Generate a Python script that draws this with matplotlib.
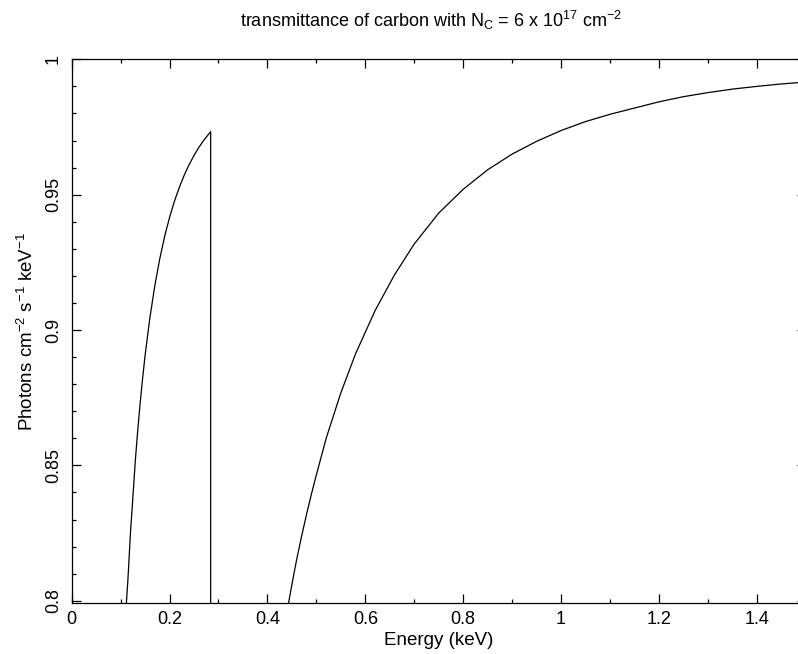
import matplotlib
matplotlib.use("Agg")
from matplotlib import pyplot as plt
from matplotlib.ticker import MultipleLocator

plt.rcParams['font.family'] = ['Liberation Sans', 'DejaVu Sans']
plt.rcParams['mathtext.fontset'] = 'custom'
plt.rcParams['mathtext.rm'] = 'Liberation Sans'
plt.rcParams['mathtext.it'] = 'Liberation Sans:italic'

# below the carbon K edge
energy_low = [0.111, 0.115, 0.12, 0.125, 0.13, 0.135, 0.14, 0.145, 0.15, 0.16, 0.17, 0.18,
              0.19, 0.20, 0.21, 0.22, 0.23, 0.24, 0.25, 0.26, 0.27, 0.284, 0.284]
trans_low = [0.797, 0.808, 0.8246, 0.838, 0.8516, 0.8629, 0.8731, 0.8822, 0.8906, 0.9047,
             0.9165, 0.9263, 0.9346, 0.9416, 0.9476, 0.9527, 0.9572, 0.9611, 0.9645, 0.9675,
             0.9701, 0.9733, 0.79]

# above the edge
energy_high = [0.441, 0.45, 0.46, 0.47, 0.48, 0.49, 0.50, 0.52, 0.55, 0.58, 0.62, 0.66, 0.70,
               0.75, 0.80, 0.85, 0.90, 0.95, 1.00, 1.05, 1.10, 1.15, 1.20, 1.25, 1.30, 1.35,
               1.40, 1.45, 1.50]
trans_high = [0.797, 0.806, 0.8155, 0.824, 0.832, 0.8395, 0.8465, 0.860, 0.8768, 0.8912, 0.9072,
              0.9205, 0.9318, 0.9432, 0.952, 0.9592, 0.965, 0.9697, 0.9737, 0.977, 0.9797,
              0.982, 0.9843, 0.9862, 0.9877, 0.989, 0.990, 0.9909, 0.9916]

xticks = [0, 0.2, 0.4, 0.6, 0.8, 1, 1.2, 1.4]
xticklabels = ["0", "0.2", "0.4", "0.6", "0.8", "1", "1.2", "1.4"]
yticks = [0.8, 0.85, 0.9, 0.95, 1]
yticklabels = ["0.8", "0.85", "0.9", "0.95", "1"]

dpi = 100
fig = plt.figure(figsize=(798 / dpi, 654 / dpi), dpi=dpi)
ax = fig.add_axes([0.0898, 0.0784, 0.920, 0.8309])

ax.plot(energy_low, trans_low, color='black', lw=0.9)
ax.plot(energy_high, trans_high, color='black', lw=0.9)

ax.set_xlim(0, 1.5)
ax.set_ylim(0.79926, 1.0)
ax.set_xticks(xticks)
ax.set_xticklabels(xticklabels)
ax.set_yticks(yticks)
ax.set_yticklabels(yticklabels, rotation=90, va='center')
ax.xaxis.set_minor_locator(MultipleLocator(0.1))
ax.yaxis.set_minor_locator(MultipleLocator(0.01))
ax.tick_params(which='both', direction='in', top=True, right=True, width=0.9)
ax.tick_params(which='major', length=6.5, labelsize=13)
ax.tick_params(which='minor', length=3)
ax.tick_params(axis='x', pad=6)
ax.tick_params(axis='y', pad=7)
for s in ax.spines.values():
    s.set_linewidth(0.9)

ax.set_xlabel("Energy (keV)", fontsize=13.5, labelpad=3)
ax.set_ylabel(r"Photons cm$^{\mathregular{-2}}$ s$^{\mathregular{-1}}$ keV$^{\mathregular{-1}}$",
              fontsize=13.5, labelpad=6)
fig.text(0.54, 0.958,
         r"transmittance of carbon with N$_{\mathregular{C}}$ = 6 x 10$^{\mathregular{17}}$ cm$^{\mathregular{-2}}$",
         ha='center', va='baseline', fontsize=13)

plt.savefig("out.png", dpi=dpi)
